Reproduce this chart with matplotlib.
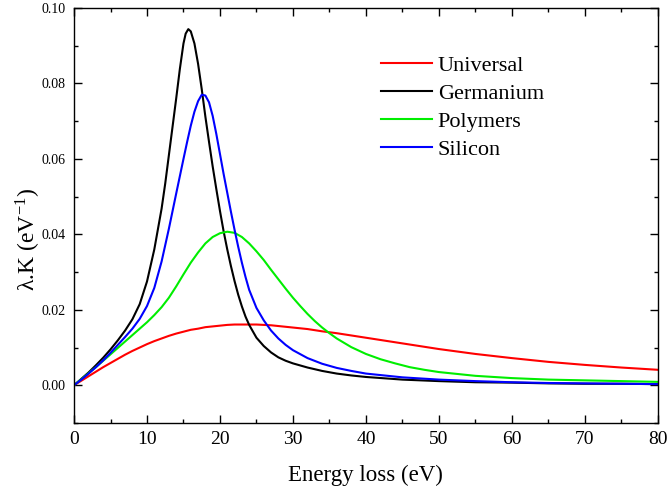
import matplotlib
matplotlib.use('Agg')
import matplotlib.pyplot as plt
from matplotlib.ticker import MultipleLocator

plt.rcParams['font.family'] = 'Liberation Serif'
plt.rcParams['mathtext.fontset'] = 'stix'

# values
e_univ = [0, 1, 2, 3, 4, 5, 6, 7, 8, 9, 10, 11, 12, 13, 14, 15, 16, 17, 18, 19, 20, 21, 22, 23, 24, 25,
          26, 27, 28, 29, 30, 32, 34, 36, 38, 40, 45, 50, 55, 60, 65, 70, 75, 80]
k_univ = [0, 0.0012, 0.0024, 0.0036, 0.0048, 0.0059, 0.0070, 0.0081, 0.0091, 0.0100, 0.0109, 0.0117,
          0.0124, 0.0131, 0.0137, 0.0142, 0.0147, 0.0150, 0.0154, 0.0156, 0.0158, 0.0160, 0.0161, 0.0161,
          0.0161, 0.0161, 0.0160, 0.0159, 0.0157, 0.0155, 0.0153, 0.0149, 0.0143, 0.0138, 0.0132, 0.0126,
          0.0111, 0.0096, 0.0083, 0.0072, 0.0062, 0.0054, 0.0047, 0.0041]

e_ge = [0, 1, 2, 3, 4, 5, 6, 7, 8, 9, 10, 11, 12, 12.5, 13, 13.5, 14, 14.5, 15, 15.3, 15.66, 16, 16.5,
        17, 17.5, 18, 18.5, 19, 19.5, 20, 20.5, 21, 21.5, 22, 22.5, 23, 23.5, 24, 25, 26, 27, 28, 29, 30,
        32, 34, 36, 38, 40, 45, 50, 55, 60, 65, 70, 75, 80]
k_ge = [0, 0.0017, 0.0034, 0.0053, 0.0073, 0.0095, 0.0119, 0.0145, 0.0175, 0.0215, 0.0275, 0.0360,
        0.0468, 0.0535, 0.0610, 0.0685, 0.0760, 0.0838, 0.0906, 0.0932, 0.0944, 0.0938, 0.0906, 0.0852,
        0.0785, 0.0712, 0.0645, 0.0580, 0.0520, 0.0462, 0.0408, 0.0360, 0.0316, 0.0276, 0.0240, 0.0209,
        0.0182, 0.0160, 0.0126, 0.0104, 0.0087, 0.0074, 0.0065, 0.0058, 0.0047, 0.0038, 0.0031, 0.0026,
        0.0022, 0.0015, 0.0011, 0.0008, 0.0007, 0.0005, 0.0004, 0.0004, 0.0003]

e_poly = [0, 1, 2, 3, 4, 5, 6, 7, 8, 9, 10, 11, 12, 13, 14, 15, 16, 17, 18, 19, 20, 21, 22, 23, 24, 25,
          26, 27, 28, 29, 30, 31, 32, 33, 34, 35, 36, 38, 40, 42, 44, 46, 48, 50, 55, 60, 65, 70, 75, 80]
k_poly = [0, 0.0016, 0.0032, 0.0048, 0.0065, 0.0082, 0.0099, 0.0116, 0.0133, 0.0150, 0.0167, 0.0186,
          0.0207, 0.0232, 0.0262, 0.0294, 0.0325, 0.0352, 0.0376, 0.0393, 0.0403, 0.0407, 0.0404, 0.0393,
          0.0376, 0.0355, 0.0332, 0.0306, 0.0281, 0.0256, 0.0232, 0.0210, 0.0189, 0.0170, 0.0153, 0.0138,
          0.0124, 0.0101, 0.0083, 0.0069, 0.0058, 0.0048, 0.0041, 0.0035, 0.0025, 0.0019, 0.0015, 0.0013,
          0.0011, 0.0009]

e_si = [0, 1, 2, 3, 4, 5, 6, 7, 8, 9, 10, 11, 12, 13, 14, 15, 15.5, 16, 16.5, 17, 17.5, 18, 18.5, 19,
        19.5, 20, 20.5, 21, 21.5, 22, 22.5, 23, 23.5, 24, 25, 26, 27, 28, 29, 30, 32, 34, 36, 38, 40, 45,
        50, 55, 60, 65, 70, 75, 80]
k_si = [0, 0.0015, 0.0031, 0.0048, 0.0066, 0.0086, 0.0107, 0.0128, 0.0150, 0.0176, 0.0210, 0.0258,
        0.0328, 0.0415, 0.0508, 0.0600, 0.0645, 0.0688, 0.0725, 0.0753, 0.0770, 0.0768, 0.0750, 0.0714,
        0.0666, 0.0613, 0.0560, 0.0510, 0.0460, 0.0412, 0.0367, 0.0325, 0.0287, 0.0253, 0.0205, 0.0172,
        0.0145, 0.0124, 0.0107, 0.0093, 0.0072, 0.0057, 0.0046, 0.0038, 0.0031, 0.0021, 0.0015, 0.0011,
        0.0008, 0.0006, 0.0005, 0.0004, 0.0003]

fig = plt.figure(figsize=(6.68, 4.93), dpi=100)
ax = fig.add_axes([0.1108, 0.142, 0.874, 0.8418])

ax.plot(e_univ, k_univ, color='#ff0000', lw=1.5, label='Universal')
ax.plot(e_ge, k_ge, color='#000000', lw=1.5, label='Germanium')
ax.plot(e_poly, k_poly, color='#00ee00', lw=1.5, label='Polymers')
ax.plot(e_si, k_si, color='#0000ff', lw=1.5, label='Silicon')

ax.set_xlim(0, 80)
ax.set_ylim(-0.01, 0.10)
ax.xaxis.set_major_locator(MultipleLocator(10))
ax.xaxis.set_minor_locator(MultipleLocator(5))
ax.yaxis.set_major_locator(MultipleLocator(0.02))
ax.yaxis.set_minor_locator(MultipleLocator(0.01))
ax.yaxis.set_major_formatter(plt.FormatStrFormatter('%.2f'))
ax.tick_params(which='both', direction='in', top=True, right=True, width=1.0)
ax.tick_params(which='major', length=5.5)
ax.tick_params(which='minor', length=3)
ax.tick_params(axis='x', labelsize=14, pad=6)
ax.tick_params(axis='y', labelsize=10, pad=6)
for s in ax.spines.values():
    s.set_linewidth(1.0)

ax.set_xlabel('Energy loss (eV)', fontsize=16.5)
ax.xaxis.set_label_coords(0.5, -0.1, transform=ax.transAxes)
ax.xaxis.label.set_va('top')
ax.set_ylabel(r'λ.K (eV$^{\mathregular{-1}}$)', fontsize=17)
ax.yaxis.set_label_coords(-0.053, 0.443, transform=ax.transAxes)

ax.legend(loc='upper left', bbox_to_anchor=(0.526, 0.885), frameon=False, fontsize=16,
          borderpad=0, borderaxespad=0, handlelength=2.3, handletextpad=0.25, labelspacing=0.33)

plt.savefig('out.png', dpi=100)
